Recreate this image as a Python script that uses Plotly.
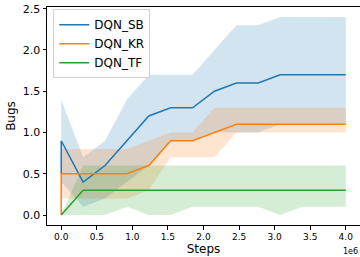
import plotly.graph_objects as go

# Data (steps; first step repeated: reset value then first evaluation)
steps = [0, 0, 307692, 615385, 923077, 1230769, 1538462, 1846154, 2153846,
         2461538, 2769231, 3076923, 3384615, 3692308, 4000000]

sb_mean  = [0.5, 0.9, 0.4, 0.6, 0.9, 1.2, 1.3, 1.3, 1.5, 1.6, 1.6, 1.7, 1.7, 1.7, 1.7]
sb_upper = [0.5, 1.4, 0.7, 0.9, 1.4, 1.7, 1.7, 1.7, 2.0, 2.3, 2.3, 2.4, 2.4, 2.4, 2.4]
sb_lower = [0.5, 0.4, 0.1, 0.2, 0.4, 0.6, 0.9, 0.9, 1.0, 1.0, 1.0, 1.1, 1.1, 1.1, 1.1]

kr_mean  = [0.0, 0.5, 0.5, 0.5, 0.5, 0.6, 0.9, 0.9, 1.0, 1.1, 1.1, 1.1, 1.1, 1.1, 1.1]
kr_upper = [0.0, 0.8, 0.8, 0.8, 0.8, 0.9, 1.0, 1.0, 1.3, 1.3, 1.3, 1.3, 1.3, 1.3, 1.3]
kr_lower = [0.0, 0.2, 0.2, 0.2, 0.2, 0.3, 0.7, 0.7, 0.7, 1.0, 1.0, 1.0, 1.0, 1.0, 1.0]

tf_mean  = [0.0, 0.0, 0.3, 0.3, 0.3, 0.3, 0.3, 0.3, 0.3, 0.3, 0.3, 0.3, 0.3, 0.3, 0.3]
tf_upper = [0.0, 0.0, 0.6, 0.6, 0.6, 0.6, 0.6, 0.6, 0.6, 0.6, 0.6, 0.6, 0.6, 0.6, 0.6]
tf_lower = [0.0, 0.0, 0.0, 0.0, 0.1, 0.0, 0.0, 0.1, 0.1, 0.1, 0.1, 0.0, 0.1, 0.1, 0.1]

series_names = ["DQN_SB", "DQN_KR", "DQN_TF"]
x_tick_vals = [0, 500000, 1000000, 1500000, 2000000, 2500000, 3000000, 3500000, 4000000]
x_tick_text = ["0.0", "0.5", "1.0", "1.5", "2.0", "2.5", "3.0", "3.5", "4.0"]
y_tick_vals = [0.0, 0.5, 1.0, 1.5, 2.0, 2.5]
y_tick_text = ["0.0", "0.5", "1.0", "1.5", "2.0", "2.5"]

colors = ["#1f77b4", "#ff7f0e", "#2ca02c"]
fills = ["rgba(31,119,180,0.2)", "rgba(255,127,14,0.2)", "rgba(44,160,44,0.2)"]

data = [(sb_mean, sb_upper, sb_lower), (kr_mean, kr_upper, kr_lower), (tf_mean, tf_upper, tf_lower)]

fig = go.Figure()
for i, (name, (m, up, lo)) in enumerate(zip(series_names, data)):
    fig.add_trace(go.Scatter(x=steps, y=up, mode="lines", line=dict(width=0),
                             showlegend=False, hoverinfo="skip"))
    fig.add_trace(go.Scatter(x=steps, y=lo, mode="lines", line=dict(width=0),
                             fill="tonexty", fillcolor=fills[i],
                             showlegend=False, hoverinfo="skip"))
for i, (name, (m, up, lo)) in enumerate(zip(series_names, data)):
    fig.add_trace(go.Scatter(x=steps, y=m, mode="lines", name=name,
                             line=dict(color=colors[i], width=1.5),
                             legendgroup=name))

font = "DejaVu Sans"
fig.update_layout(
    width=360, height=257,
    margin=dict(l=47, r=0, t=7, b=32),
    paper_bgcolor="white", plot_bgcolor="white",
    font=dict(family=font, color="black"),
    showlegend=True,
    legend=dict(x=0.02, y=0.99, xanchor="left", yanchor="top",
                bgcolor="rgba(255,255,255,0.8)", bordercolor="#d0d0d0", borderwidth=1,
                font=dict(family=font, size=12), tracegroupgap=0),
    xaxis=dict(range=[-200000, 4200000], showgrid=False, zeroline=False,
               showline=True, linecolor="black", linewidth=1, mirror=True,
               ticks="outside", ticklen=3.5, tickwidth=0.8, tickcolor="black",
               tickvals=x_tick_vals, ticktext=x_tick_text,
               tickfont=dict(family=font, size=9),
               title=dict(text="Steps", font=dict(family=font, size=12), standoff=2)),
    yaxis=dict(range=[-0.12, 2.52], showgrid=False, zeroline=False,
               showline=True, linecolor="black", linewidth=1, mirror=True,
               ticks="outside", ticklen=3.5, tickwidth=0.8, tickcolor="black",
               tickvals=y_tick_vals, ticktext=y_tick_text,
               tickfont=dict(family=font, size=11),
               title=dict(text="Bugs", font=dict(family=font, size=12), standoff=4)),
)
fig.add_annotation(text="1e6", xref="paper", yref="paper", x=1.0, y=-0.09,
                   xanchor="right", yanchor="top", showarrow=False,
                   font=dict(family=font, size=8))

fig.write_html("out.html", config={"displayModeBar": False},
               post_script="document.body.style.margin='0';")
